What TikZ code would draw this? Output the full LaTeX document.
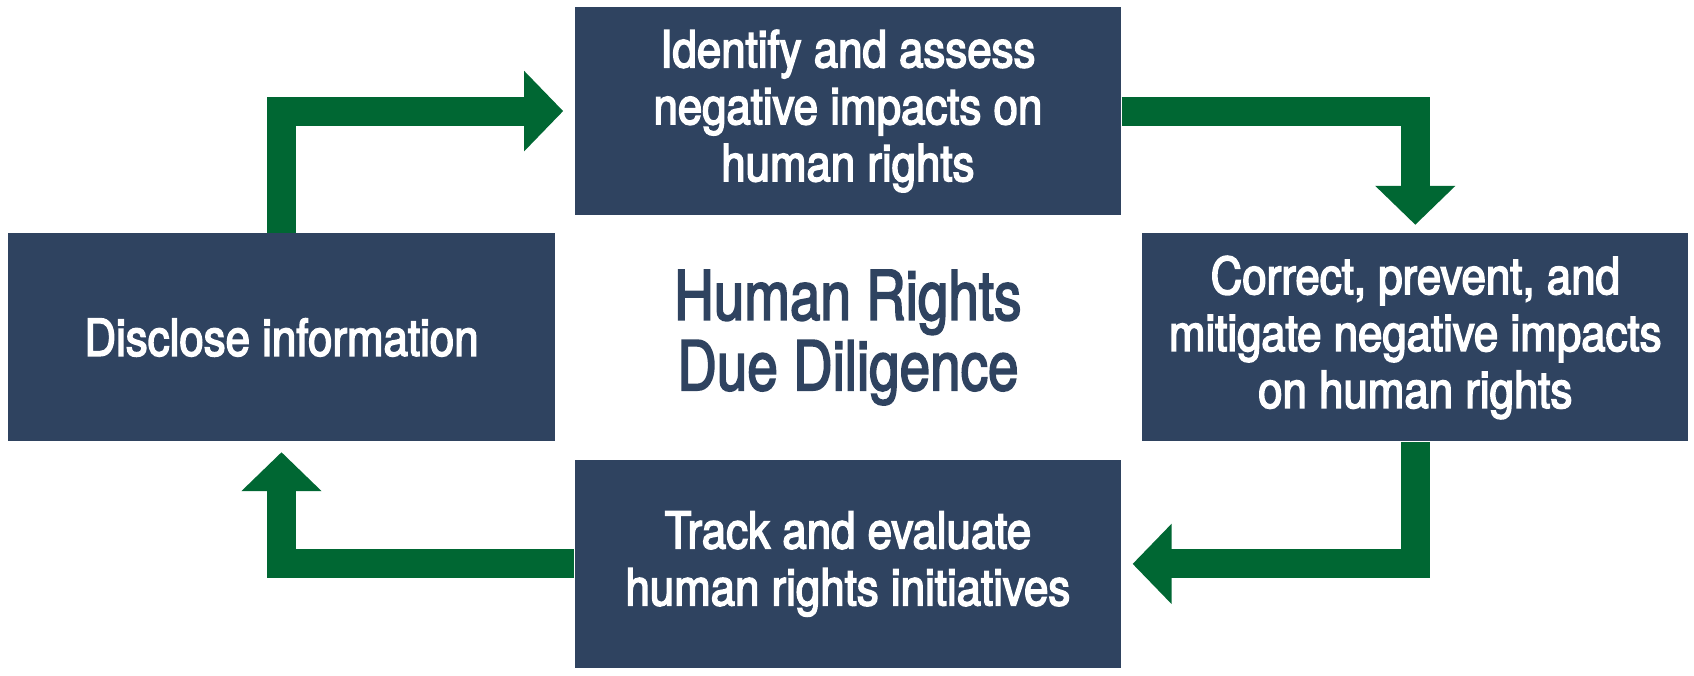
\documentclass[tikz,border=0pt]{standalone}
\usepackage{fontspec}
\setmainfont{TeX Gyre Heros}[FakeStretch=0.86, FakeBold=3]
\newfontfamily\titlefont{TeX Gyre Heros}[FakeStretch=0.80, FakeBold=2.5]
\usepackage{tikz}
\usetikzlibrary{arrows.meta, positioning, calc}

\definecolor{ddnavy}{RGB}{47,67,96}
\definecolor{ddgreen}{RGB}{0,103,51}

\begin{document}
\begin{tikzpicture}[>={Triangle[width=7.8mm, length=3.9mm]}]

        % --- Styles ---
        \tikzstyle{stage} = [rectangle, minimum width=5.46cm, minimum height=2.08cm, inner sep=0pt, text centered, fill=ddnavy, text=white, align=center, font=\fontsize{14.5}{16.2}\selectfont]
        \tikzstyle{flow} = [draw=ddgreen, line width=2.9mm, line join=miter, ->]

        % --- Nodes ---

        % 1. Disclose
        \node (disclose) [stage] {Disclose information};

        % 2. Identify and assess
        \node (identify) [stage, above right=1.7mm and 1.9mm of disclose] {Identify and assess\\negative impacts on\\human rights};

        % 3. Correct, prevent, mitigate
        \node (correct) [stage, below right=1.7mm and 2mm of identify] {Correct, prevent, and\\mitigate negative impacts\\on human rights};

        % 4. Track and evaluate
        \node (track) [stage, below left=1.7mm and 2mm of correct] {Track and evaluate\\human rights initiatives};

        % centre title
        \node (title) [text=ddnavy, align=center, font=\titlefont\fontsize{19.5}{20}\selectfont] at ($(identify.south)!0.5!(track.north)$) {Human Rights\\Due Diligence};

        % --- Connectors ---
        \draw[flow] (disclose.north) |- ([xshift=-1.1mm]identify.west);
        \draw[flow] (identify.east) -| ([yshift=0.8mm]correct.north);
        \draw[flow] (correct.south) |- ([xshift=1.1mm]track.east);
        \draw[flow] (track.west) -| ([yshift=-1mm]disclose.south);

        \useasboundingbox (-2.815,-3.385) rectangle (14.125,3.375);

\end{tikzpicture}
\end{document}
